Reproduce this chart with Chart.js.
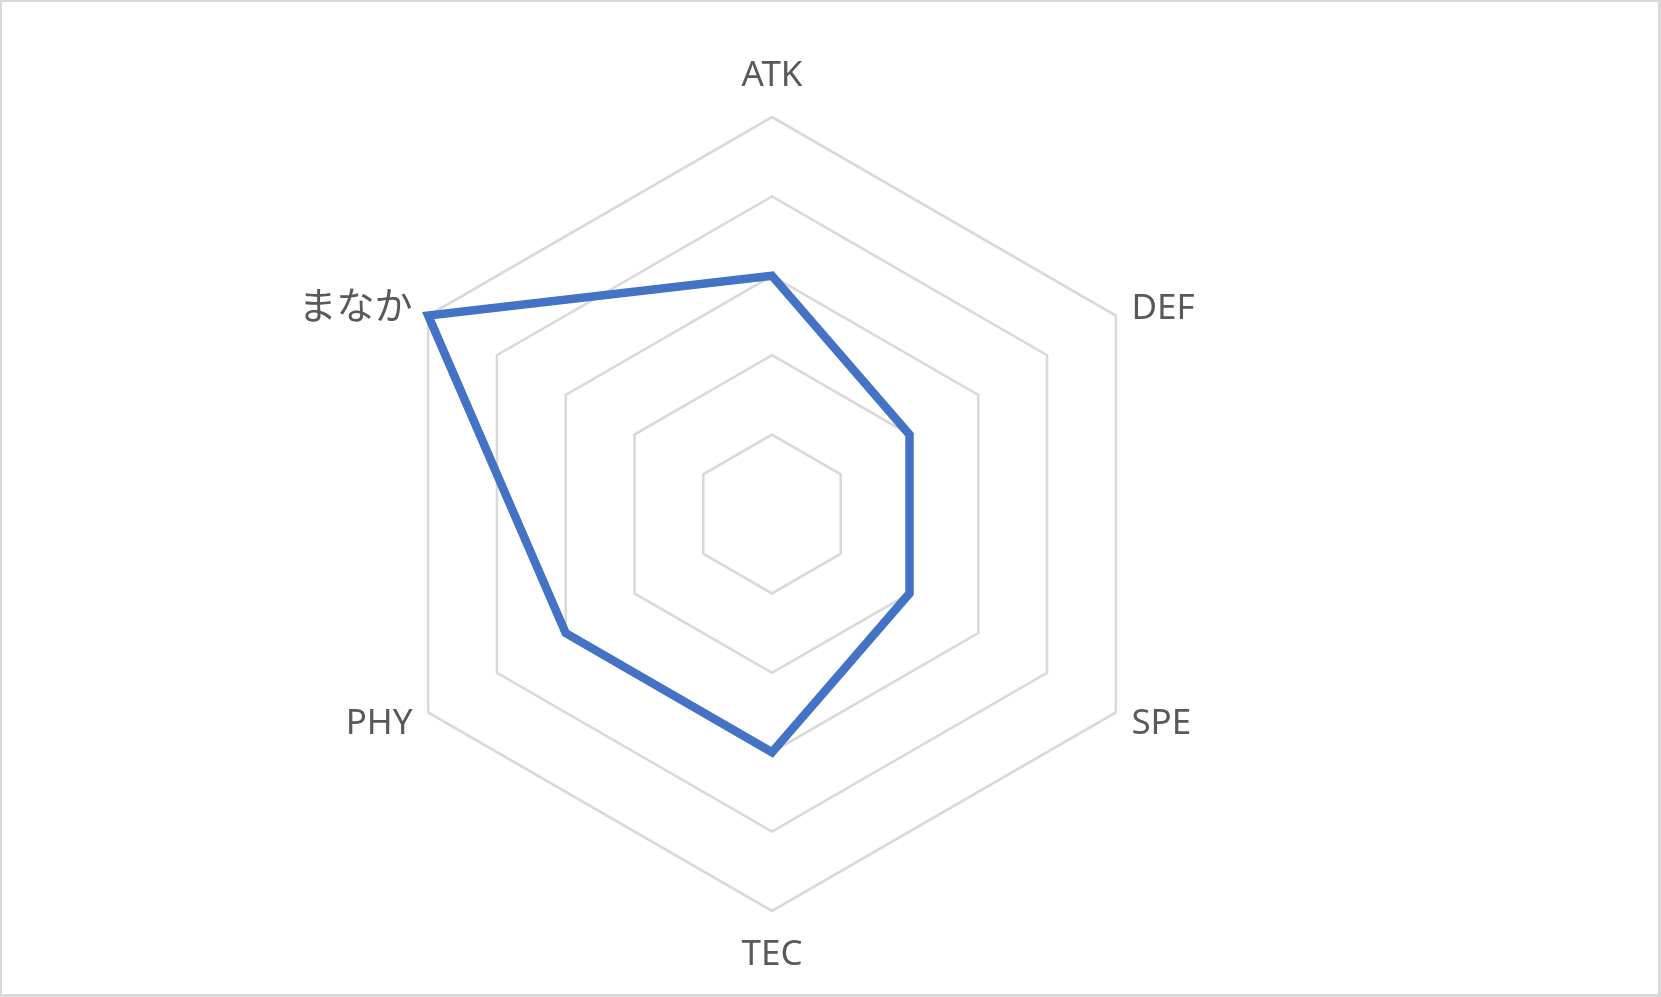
<!DOCTYPE html>
<html>
<head>
<meta charset="utf-8">
<script src="https://cdn.jsdelivr.net/npm/chart.js@4/dist/chart.umd.min.js"></script>
<style>
  html, body { margin: 0; padding: 0; background: #fff; }
  #frame {
    position: absolute; left: 0; top: 0; width: 1661px; height: 997px;
    box-sizing: border-box; border: 2px solid #d9d9d9;
    border-right-width: 3px; border-bottom-width: 3px;
    pointer-events: none;
  }
  #radar { position: absolute; left: 0; top: 0; }
</style>
</head>
<body>
<canvas id="radar" width="1661" height="997"></canvas>
<div id="frame"></div>
<script>
  // ── Data ──
  const axisLabels = ['ATK', 'DEF', 'SPE', 'TEC', 'PHY', 'まなか'];
  const scores     = [3, 2, 2, 3, 3, 5];
  const scaleMin   = 0;
  const scaleMax   = 5;
  const scaleStep  = 1;

  const COLORS = {
    line:  '#4472C4',
    grid:  '#D9D9D9',
    label: '#595959'
  };

  // ── Axis labels drawn next to the outer ring, positioned by the radial scale ──
  const axisLabelPlugin = {
    id: 'axisLabels',
    afterDraw(chart) {
      const scale = chart.scales.r;
      const c = chart.ctx;
      const pad = 18;
      c.save();
      c.fillStyle = COLORS.label;
      scale._pointLabels.forEach((text, i) => {
        const p = scale.getPointPosition(i, scale.drawingArea + pad);
        const cos = Math.cos(p.angle), sin = Math.sin(p.angle);
        const cjk = /[^\x00-\x7F]/.test(text);
        c.font = (cjk ? '38px "Noto Sans CJK JP"' : '35px "Noto Sans"');
        let midY = p.y;
        if (Math.abs(cos) < 0.01) {
          c.textAlign = 'center';
          midY += sin < 0 ? -26 : 23;
        } else {
          c.textAlign = cos > 0 ? 'left' : 'right';
        }
        c.textBaseline = 'alphabetic';
        c.fillText(text, p.x, midY + 12.5);
      });
      c.restore();
    }
  };

  new Chart(document.getElementById('radar').getContext('2d'), {
    type: 'radar',
    data: {
      labels: axisLabels,
      datasets: [{
        label: 'まなか',
        data: scores,
        borderColor: COLORS.line,
        backgroundColor: 'transparent',
        borderWidth: 8.5,
        borderJoinStyle: 'miter',
        pointRadius: 0,
        pointHoverRadius: 0,
        fill: false,
        clip: false
      }]
    },
    options: {
      responsive: false,
      animation: false,
      layout: { padding: { left: 375, top: 117, right: 492, bottom: 86 } },
      scales: {
        r: {
          min: scaleMin,
          max: scaleMax,
          ticks: { stepSize: scaleStep, display: false },
          grid: { color: COLORS.grid, lineWidth: 2.6, circular: false },
          angleLines: { display: false },
          pointLabels: { display: false }
        }
      },
      plugins: {
        legend: { display: false },
        tooltip: { enabled: false }
      }
    },
    plugins: [axisLabelPlugin]
  });
</script>
</body>
</html>
